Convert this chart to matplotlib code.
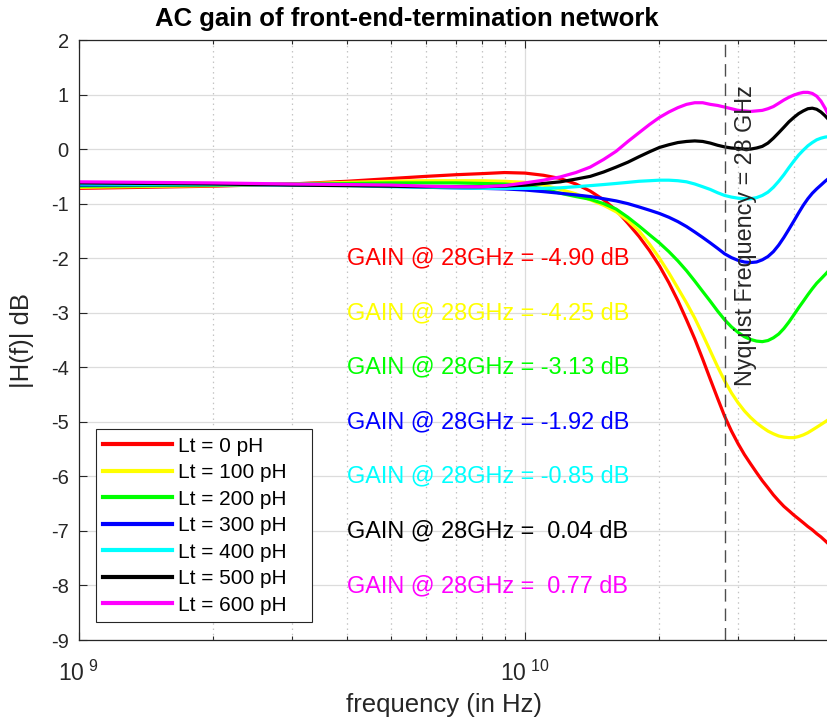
import matplotlib
matplotlib.use("Agg")
import matplotlib.pyplot as plt
import numpy as np
from matplotlib.ticker import LogLocator, NullFormatter, FixedLocator, FuncFormatter

plt.rcParams['font.family'] = ['Liberation Sans', 'DejaVu Sans']
plt.rcParams['mathtext.fontset'] = 'custom'
plt.rcParams['mathtext.rm'] = 'Liberation Sans'
plt.rcParams['axes.unicode_minus'] = False

# frequency grid (GHz)
freq_ghz = [1, 2, 3, 4, 5, 6, 7, 8, 9, 10, 11, 12, 13, 14, 15, 16, 17, 18, 19,
            20, 21, 22, 23, 24, 25, 26, 27, 28, 29, 30, 31, 32, 33, 34, 35,
            36, 37, 38, 39, 40, 41, 42, 43, 44, 45, 46, 47, 48, 49, 50]

# |H(f)| in dB for each termination inductance
gain_0ph = [-0.72, -0.68, -0.64, -0.59, -0.54, -0.50, -0.47, -0.45, -0.43, -0.44,
            -0.48, -0.54, -0.64, -0.77, -0.93, -1.12, -1.36, -1.60, -1.86,
            -2.14, -2.45, -2.78, -3.13, -3.48, -3.85, -4.22, -4.57, -4.90, -5.17,
            -5.40, -5.60, -5.77, -5.93, -6.08, -6.21, -6.34, -6.45, -6.55, -6.63,
            -6.71, -6.78, -6.85, -6.92, -6.98, -7.05, -7.11, -7.18, -7.25, -7.31, -7.37]
gain_100ph = [-0.70, -0.67, -0.64, -0.61, -0.59, -0.58, -0.58, -0.58, -0.59, -0.61,
              -0.66, -0.74, -0.82, -0.93, -1.03, -1.15, -1.31, -1.50, -1.74,
              -2.00, -2.27, -2.55, -2.82, -3.10, -3.40, -3.70, -3.99, -4.25, -4.47,
              -4.65, -4.80, -4.92, -5.02, -5.10, -5.17, -5.22, -5.26, -5.28, -5.29,
              -5.29, -5.27, -5.24, -5.20, -5.15, -5.10, -5.05, -5.00, -4.95, -4.90, -4.85]
gain_200ph = [-0.68, -0.66, -0.64, -0.63, -0.62, -0.62, -0.62, -0.63, -0.64, -0.67,
              -0.73, -0.81, -0.87, -0.92, -1.00, -1.10, -1.25, -1.41, -1.57,
              -1.72, -1.88, -2.05, -2.23, -2.42, -2.61, -2.79, -2.97, -3.13, -3.26,
              -3.36, -3.44, -3.49, -3.52, -3.53, -3.51, -3.46, -3.39, -3.29, -3.17,
              -3.04, -2.91, -2.79, -2.67, -2.56, -2.46, -2.38, -2.30, -2.22, -2.15, -2.08]
gain_300ph = [-0.66, -0.65, -0.65, -0.66, -0.68, -0.70, -0.71, -0.72, -0.73, -0.75,
              -0.78, -0.81, -0.84, -0.87, -0.91, -0.95, -1.00, -1.06, -1.12,
              -1.18, -1.25, -1.33, -1.42, -1.52, -1.62, -1.72, -1.82, -1.92, -1.99,
              -2.04, -2.07, -2.08, -2.07, -2.03, -1.97, -1.88, -1.76, -1.62, -1.47,
              -1.32, -1.17, -1.03, -0.91, -0.81, -0.73, -0.66, -0.59, -0.53, -0.48, -0.43]
gain_400ph = [-0.64, -0.65, -0.66, -0.67, -0.69, -0.70, -0.71, -0.72, -0.72, -0.72,
              -0.72, -0.71, -0.69, -0.67, -0.65, -0.63, -0.61, -0.59, -0.58,
              -0.57, -0.57, -0.58, -0.60, -0.64, -0.69, -0.74, -0.80, -0.85, -0.88,
              -0.90, -0.91, -0.91, -0.89, -0.85, -0.79, -0.70, -0.59, -0.47, -0.34,
              -0.22, -0.11, -0.02, 0.06, 0.12, 0.17, 0.20, 0.22, 0.23, 0.23, 0.22]
gain_500ph = [-0.62, -0.64, -0.66, -0.67, -0.68, -0.69, -0.69, -0.69, -0.68, -0.66,
              -0.63, -0.60, -0.55, -0.50, -0.42, -0.33, -0.24, -0.14, -0.05,
              0.03, 0.08, 0.12, 0.14, 0.15, 0.14, 0.11, 0.07, 0.04, 0.02,
              0.01, 0.00, 0.00, 0.02, 0.05, 0.11, 0.20, 0.30, 0.40, 0.50,
              0.58, 0.65, 0.70, 0.74, 0.75, 0.73, 0.68, 0.61, 0.53, 0.45, 0.38]
gain_600ph = [-0.60, -0.62, -0.64, -0.65, -0.66, -0.68, -0.69, -0.69, -0.67, -0.62,
              -0.57, -0.51, -0.43, -0.33, -0.19, -0.04, 0.14, 0.30, 0.45,
              0.58, 0.68, 0.76, 0.82, 0.85, 0.85, 0.82, 0.80, 0.77, 0.74,
              0.71, 0.70, 0.69, 0.70, 0.71, 0.74, 0.78, 0.84, 0.90, 0.95,
              0.99, 1.02, 1.04, 1.04, 1.02, 0.97, 0.88, 0.75, 0.60, 0.47, 0.35]

series = [gain_0ph, gain_100ph, gain_200ph, gain_300ph, gain_400ph, gain_500ph, gain_600ph]
labels = ['Lt = 0 pH', 'Lt = 100 pH', 'Lt = 200 pH', 'Lt = 300 pH',
          'Lt = 400 pH', 'Lt = 500 pH', 'Lt = 600 pH']
colors = ['#ff0000', '#ffff00', '#00ff00', '#0000ff', '#00ffff', '#000000', '#ff00ff']
gain_at_nyquist = [-4.90, -4.25, -3.13, -1.92, -0.85, 0.04, 0.77]
nyquist_hz = 28e9

freq_hz = np.array(freq_ghz) * 1e9

W, H = 828, 721
fig = plt.figure(figsize=(W / 100, H / 100), dpi=100)
ax_l, ax_r, ax_t, ax_b = 78.5, 837.1, 40, 640
ax = fig.add_axes([ax_l / W, 1 - ax_b / H, (ax_r - ax_l) / W, (ax_b - ax_t) / H])

for vals, lab, col in zip(series, labels, colors):
    ax.plot(freq_hz, vals, color=col, lw=2.3, label=lab, solid_joinstyle='round')

ax.set_xscale('log')
ax.set_xlim(1e9, 5e10)
ax.set_ylim(-9, 2)
ax.set_yticks(range(-9, 3))

ax.xaxis.set_major_locator(FixedLocator([1e9, 1e10]))
ax.xaxis.set_minor_locator(LogLocator(base=10, subs=range(2, 10)))
ax.xaxis.set_minor_formatter(NullFormatter())
ax.xaxis.set_major_formatter(FuncFormatter(lambda v, p: r'$\mathregular{10^{\ %d}}$' % round(np.log10(v))))

ax.grid(which='major', axis='both', color='#dcdcdc', lw=0.9, ls='-')
ax.grid(which='minor', axis='x', color='#c4c4c4', lw=0.9, ls=(0, (1.2, 3)))
ax.set_axisbelow(True)

for s in ax.spines.values():
    s.set_color('#262626')
    s.set_linewidth(0.9)
ax.tick_params(which='both', direction='in', top=True, right=True, colors='#262626',
               labelsize=14.5, width=0.8)
ax.tick_params(which='major', length=6, pad=7)
ax.tick_params(which='minor', length=3)
ax.tick_params(axis='x', which='major', pad=15, labelsize=16.5)

# Nyquist marker
ax.axvline(nyquist_hz, color='#4d4d4d', lw=1.0, ls=(0, (9, 5)))
ax.text(32.2e9, -4.35, 'Nyquist Frequency = 28 GHz', rotation=90, rotation_mode='anchor',
        ha='left', va='baseline', fontsize=16.8, color='#262626')

# gain readouts at Nyquist
for k, (g, col) in enumerate(zip(gain_at_nyquist, colors)):
    ax.text(4e9, -2 - k, 'GAIN @ 28GHz = %5.2f dB' % g, color=col, fontsize=16.9,
            ha='left', va='center')

leg = ax.legend(loc='lower left', bbox_to_anchor=(0.0231, 0.03, 0.2847, 0.3),
                mode='expand', borderaxespad=0, fontsize=15, handlelength=3.3,
                handletextpad=0.3, labelspacing=0.36, borderpad=0.35, fancybox=False,
                framealpha=1, edgecolor='#262626')
leg.get_frame().set_linewidth(0.8)
for line in leg.get_lines():
    line.set_linewidth(3)

fig.text(407 / W, 1 - 26 / H, 'AC gain of front-end-termination network', ha='center',
         va='baseline', fontsize=18.5, fontweight='bold', color='black')
fig.text(444 / W, 1 - 705 / H, 'frequency (in Hz)', ha='center', va='center',
         fontsize=18.5, color='#262626')
fig.text(22 / W, 1 - 340 / H, '|H(f)| dB', ha='center', va='center', rotation=90,
         fontsize=18.5, color='#262626')

fig.savefig('out.png', dpi=100)
